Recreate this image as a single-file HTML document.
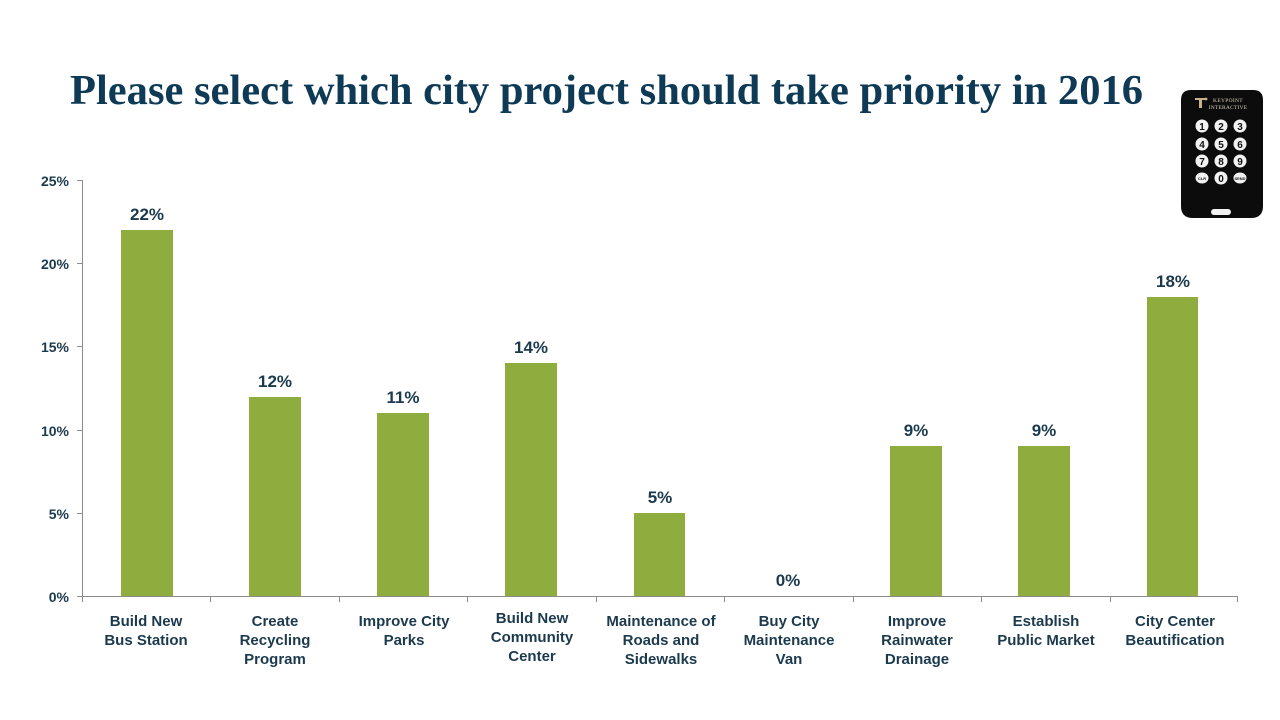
<!DOCTYPE html>
<html>
<head>
<meta charset="utf-8">
<style>
  html,body{margin:0;padding:0;background:#ffffff;}
  svg{display:block;}
  .cat{font-family:"Liberation Sans",sans-serif;font-weight:bold;font-size:15px;fill:#1c3a4d;text-anchor:middle;}
  .val{font-family:"Liberation Sans",sans-serif;font-weight:bold;font-size:17px;fill:#1c3a4d;text-anchor:middle;}
  .yt{font-family:"Liberation Sans",sans-serif;font-weight:bold;font-size:14px;fill:#1c3a4d;text-anchor:end;}
</style>
</head>
<body>
<svg width="1280" height="720" viewBox="0 0 1280 720" xmlns="http://www.w3.org/2000/svg">
  <rect width="1280" height="720" fill="#ffffff"/>
  <!-- Title -->
  <text x="70" y="104" font-family="'Liberation Serif',serif" font-weight="bold" font-size="42" fill="#0e3a55" textLength="1073" lengthAdjust="spacingAndGlyphs">Please select which city project should take priority in 2016</text>

  <!-- Axes -->
  <g stroke="#8c8c8c" stroke-width="1" fill="none">
    <line x1="82.5" y1="180" x2="82.5" y2="596.5"/>
    <line x1="82" y1="596.5" x2="1238" y2="596.5"/>
    <line x1="77" y1="180.5" x2="82" y2="180.5"/>
    <line x1="77" y1="263.5" x2="82" y2="263.5"/>
    <line x1="77" y1="346.5" x2="82" y2="346.5"/>
    <line x1="77" y1="430.5" x2="82" y2="430.5"/>
    <line x1="77" y1="513.5" x2="82" y2="513.5"/>
    <line x1="77" y1="596.5" x2="82" y2="596.5"/>
    <line x1="82.5" y1="596" x2="82.5" y2="602"/>
    <line x1="210.5" y1="596" x2="210.5" y2="602"/>
    <line x1="339.5" y1="596" x2="339.5" y2="602"/>
    <line x1="467.5" y1="596" x2="467.5" y2="602"/>
    <line x1="596.5" y1="596" x2="596.5" y2="602"/>
    <line x1="724.5" y1="596" x2="724.5" y2="602"/>
    <line x1="853.5" y1="596" x2="853.5" y2="602"/>
    <line x1="981.5" y1="596" x2="981.5" y2="602"/>
    <line x1="1110.5" y1="596" x2="1110.5" y2="602"/>
    <line x1="1237.5" y1="596" x2="1237.5" y2="602"/>
  </g>

  <!-- Y tick labels -->
  <text class="yt" x="69" y="186">25%</text>
  <text class="yt" x="69" y="269">20%</text>
  <text class="yt" x="69" y="352">15%</text>
  <text class="yt" x="69" y="436">10%</text>
  <text class="yt" x="69" y="519">5%</text>
  <text class="yt" x="69" y="602">0%</text>

  <!-- Bars -->
  <g fill="#8fac3e">
    <rect x="121" y="230" width="52" height="366"/>
    <rect x="249" y="397" width="52" height="199"/>
    <rect x="377" y="413" width="52" height="183"/>
    <rect x="505" y="363" width="52" height="233"/>
    <rect x="634" y="513" width="51" height="83"/>
    <rect x="890" y="446" width="52" height="150"/>
    <rect x="1018" y="446" width="52" height="150"/>
    <rect x="1147" y="297" width="51" height="299"/>
  </g>

  <!-- Value labels -->
  <text class="val" x="147" y="220">22%</text>
  <text class="val" x="275" y="387">12%</text>
  <text class="val" x="403" y="403">11%</text>
  <text class="val" x="531" y="353">14%</text>
  <text class="val" x="660" y="503">5%</text>
  <text class="val" x="788" y="586">0%</text>
  <text class="val" x="916" y="436">9%</text>
  <text class="val" x="1044" y="436">9%</text>
  <text class="val" x="1173" y="287">18%</text>

  <!-- Category labels -->
  <text class="cat" x="146" y="626">Build New</text>
  <text class="cat" x="146" y="645">Bus Station</text>

  <text class="cat" x="275" y="626">Create</text>
  <text class="cat" x="275" y="645">Recycling</text>
  <text class="cat" x="275" y="664">Program</text>

  <text class="cat" x="404" y="626">Improve City</text>
  <text class="cat" x="404" y="645">Parks</text>

  <text class="cat" x="532" y="623">Build New</text>
  <text class="cat" x="532" y="642">Community</text>
  <text class="cat" x="532" y="661">Center</text>

  <text class="cat" x="661" y="626">Maintenance of</text>
  <text class="cat" x="661" y="645">Roads and</text>
  <text class="cat" x="661" y="664">Sidewalks</text>

  <text class="cat" x="789" y="626">Buy City</text>
  <text class="cat" x="789" y="645">Maintenance</text>
  <text class="cat" x="789" y="664">Van</text>

  <text class="cat" x="917" y="626">Improve</text>
  <text class="cat" x="917" y="645">Rainwater</text>
  <text class="cat" x="917" y="664">Drainage</text>

  <text class="cat" x="1046" y="626">Establish</text>
  <text class="cat" x="1046" y="645">Public Market</text>

  <text class="cat" x="1175" y="626">City Center</text>
  <text class="cat" x="1175" y="645">Beautification</text>

  <!-- Keypad device -->
  <g>
    <path d="M1191,90 H1253 Q1263,90 1263,100 V206 Q1263,218 1251,218 H1193 Q1181,218 1181,206 V100 Q1181,90 1191,90 Z" fill="#0c0c0c"/>
    <!-- logo -->
    <g fill="#c9b48a">
      <rect x="1195" y="98" width="10" height="2"/>
      <rect x="1199" y="98" width="3" height="10"/>
      <circle cx="1206" cy="99" r="1.4"/>
    </g>
    <text x="1228" y="102" font-family="'Liberation Serif',serif" font-size="5.5" fill="#d8d0c0" text-anchor="middle" letter-spacing="0.3">KEYPOINT</text>
    <text x="1228" y="109" font-family="'Liberation Serif',serif" font-size="5.5" fill="#d8d0c0" text-anchor="middle" letter-spacing="0.2">INTERACTIVE</text>
    <!-- buttons -->
    <g fill="#f2f2f2">
      <circle cx="1202" cy="126" r="6.5"/><circle cx="1221" cy="126" r="6.5"/><circle cx="1240" cy="126" r="6.5"/>
      <circle cx="1202" cy="144" r="6.5"/><circle cx="1221" cy="144" r="6.5"/><circle cx="1240" cy="144" r="6.5"/>
      <circle cx="1202" cy="161" r="6.5"/><circle cx="1221" cy="161" r="6.5"/><circle cx="1240" cy="161" r="6.5"/>
      <ellipse cx="1202" cy="178" rx="6.5" ry="5.5"/><circle cx="1221" cy="178" r="6.5"/><ellipse cx="1240" cy="178" rx="6.5" ry="5.5"/>
    </g>
    <g font-family="'Liberation Sans',sans-serif" font-weight="bold" font-size="10" fill="#111" text-anchor="middle">
      <text x="1202" y="130">1</text><text x="1221" y="130">2</text><text x="1240" y="130">3</text>
      <text x="1202" y="148">4</text><text x="1221" y="148">5</text><text x="1240" y="148">6</text>
      <text x="1202" y="165">7</text><text x="1221" y="165">8</text><text x="1240" y="165">9</text>
      <text x="1221" y="182">0</text>
      <text x="1202" y="180" font-size="4">CLR</text>
      <text x="1240" y="180" font-size="4">SEND</text>
    </g>
    <rect x="1211" y="209" width="20" height="6" rx="3" fill="#f2f2f2"/>
  </g>
</svg>
</body>
</html>
